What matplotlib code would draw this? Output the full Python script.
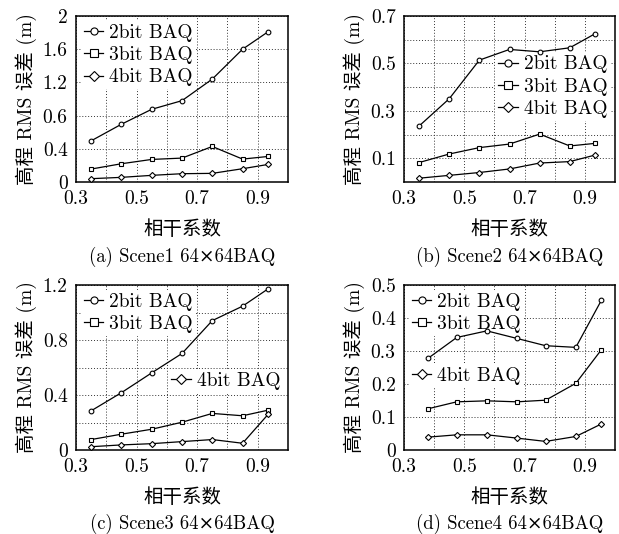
import matplotlib
matplotlib.use('Agg')
import matplotlib.pyplot as plt
import numpy as np

plt.rcParams['font.family'] = ['cmr10', 'DejaVu Serif', 'Noto Sans CJK SC']
plt.rcParams['axes.unicode_minus'] = False

# coherence values on the x axis
x_abc = [0.35, 0.45, 0.55, 0.65, 0.75, 0.85, 0.935]
x_d = [0.38, 0.475, 0.575, 0.675, 0.77, 0.87, 0.955]

# scene 1 (y axis in tick-position units, labels are as printed)
s1_2bit = [0.496, 0.696, 0.876, 0.98, 1.24, 1.60, 1.812]
s1_3bit = [0.156, 0.22, 0.272, 0.288, 0.428, 0.276, 0.308]
s1_4bit = [0.04, 0.056, 0.08, 0.10, 0.104, 0.16, 0.212]
s1_ticks = [0, 0.4, 0.8, 1.2, 1.6, 2.0]
s1_ticklabels = ['0', '0.4', '0.6', '1.2', '1.6', '2']

# scene 2
s2_2bit = [0.236, 0.351, 0.514, 0.559, 0.549, 0.566, 0.626]
s2_3bit = [0.082, 0.118, 0.145, 0.16, 0.202, 0.152, 0.163]
s2_4bit = [0.016, 0.028, 0.04, 0.055, 0.08, 0.086, 0.114]

# scene 3
s3_2bit = [0.285, 0.417, 0.561, 0.702, 0.941, 1.046, 1.173]
s3_3bit = [0.076, 0.115, 0.151, 0.202, 0.266, 0.249, 0.29]
s3_4bit = [0.024, 0.037, 0.046, 0.061, 0.076, 0.049, 0.261]

# scene 4
s4_2bit = [0.278, 0.341, 0.361, 0.338, 0.316, 0.311, 0.454]
s4_3bit = [0.125, 0.146, 0.149, 0.146, 0.151, 0.202, 0.304]
s4_4bit = [0.039, 0.046, 0.046, 0.036, 0.026, 0.041, 0.079]

labels = ['2bit BAQ', '3bit BAQ', '4bit BAQ']
markers = ['o', 's', 'D']
captions = ['(a) Scene1 64×64BAQ', '(b) Scene2 64×64BAQ',
            '(c) Scene3 64×64BAQ', '(d) Scene4 64×64BAQ']

fig = plt.figure(figsize=(6.19, 5.34), dpi=100)
W, H = 619, 534
boxes = [(76, 16, 288, 182), (404, 16, 615, 182),
         (76, 285, 288, 450), (404, 285, 615, 450)]
axes = []
for (l, t, r, b) in boxes:
    axes.append(fig.add_axes([l / W, 1 - b / H, (r - l) / W, (b - t) / H]))

FS = 14


def draw(ax, x, series):
    lines = []
    for ys, m, lab in zip(series, markers, labels):
        ln, = ax.plot(x, ys, color='black', lw=0.9, marker=m,
                      ms=3.4 if m != 'D' else 3.1,
                      mfc='white', mec='black', mew=0.8, label=lab, zorder=3)
        lines.append(ln)
    ax.set_xlim(0.3, 1.0)
    ax.set_xticks([0.3, 0.5, 0.7, 0.9])
    ax.set_xticklabels(['0.3', '0.5', '0.7', '0.9'])
    ax.set_xticks([0.4, 0.6, 0.8], minor=True)
    ax.grid(True, which='both', linestyle=(0, (1.0, 2.0)), color='#333333', lw=0.7)
    ax.tick_params(which='both', direction='in', length=0, labelsize=FS, pad=6)
    for s in ax.spines.values():
        s.set_linewidth(1.1)
    ax.set_xlabel('相干系数', fontsize=FS, family=['Noto Sans CJK SC'], labelpad=8)
    ax.set_ylabel('高程 RMS 误差 (m)', fontsize=FS, labelpad=4)
    return lines


def leg(ax, handles, **kw):
    lg = ax.legend(handles=handles, fontsize=FS, handlelength=1.0, handletextpad=0.3,
                   labelspacing=0.22, borderpad=0.15, fancybox=False, framealpha=1,
                   borderaxespad=0.25, markerscale=1.5, **kw)
    lg.get_frame().set_edgecolor('none')
    lg.set_zorder(2.5)
    return lg


# (a)
ax = axes[0]
ln = draw(ax, x_abc, [s1_2bit, s1_3bit, s1_4bit])
ax.set_ylim(0, 2.0)
ax.set_yticks(s1_ticks)
ax.set_yticklabels(s1_ticklabels)
leg(ax, ln, loc='upper left')

# (b)
ax = axes[1]
ln = draw(ax, x_abc, [s2_2bit, s2_3bit, s2_4bit])
ax.set_ylim(0, 0.7)
ax.set_yticks([0.1, 0.3, 0.5, 0.7])
ax.set_yticklabels(['0.1', '0.3', '0.5', '0.7'])
ax.set_yticks([0.2, 0.6, 0.4], minor=True)
leg(ax, ln, loc='upper right', bbox_to_anchor=(1.0, 0.81))

# (c)
ax = axes[2]
ln = draw(ax, x_abc, [s3_2bit, s3_3bit, s3_4bit])
ax.set_ylim(0, 1.2)
ax.set_yticks([0, 0.4, 0.8, 1.2])
ax.set_yticklabels(['0', '0.4', '0.8', '1.2'])
ax.set_yticks([0.2, 0.6, 1.0], minor=True)
l1 = leg(ax, ln[:2], loc='upper left')
ax.add_artist(l1)
leg(ax, ln[2:], loc='center right', bbox_to_anchor=(1.0, 0.42))

# (d)
ax = axes[3]
ln = draw(ax, x_d, [s4_2bit, s4_3bit, s4_4bit])
ax.set_ylim(0, 0.5)
ax.set_yticks([0, 0.1, 0.2, 0.3, 0.4, 0.5])
ax.set_yticklabels(['0', '0.1', '0.2', '0.3', '0.4', '0.5'])
l1 = leg(ax, ln[:2], loc='upper left')
ax.add_artist(l1)
leg(ax, ln[2:], loc='upper left', bbox_to_anchor=(0.0, 0.55))

for ax, cap in zip(axes, captions):
    ax.text(0.5, -0.45, cap, transform=ax.transAxes, ha='center', va='center',
            fontsize=FS - 0.5)

fig.savefig('out.png', dpi=100)
